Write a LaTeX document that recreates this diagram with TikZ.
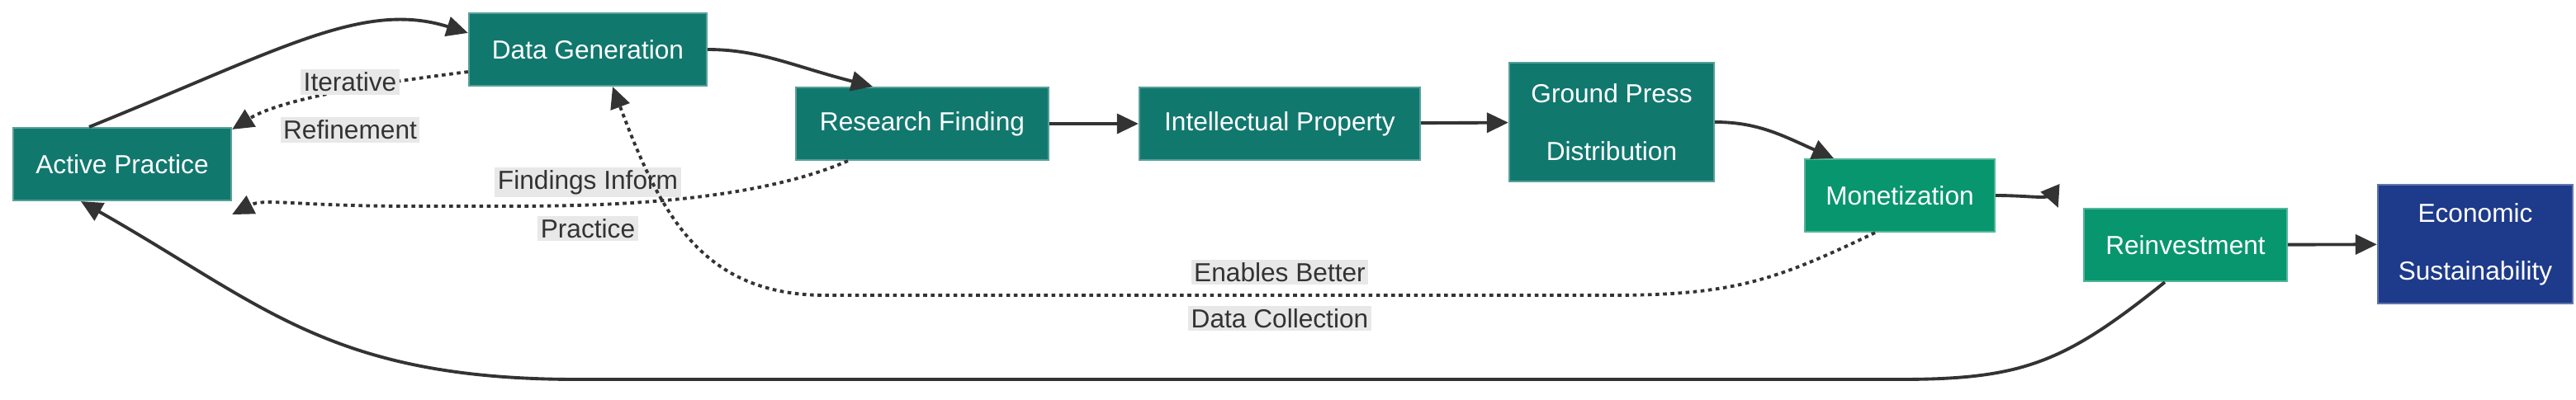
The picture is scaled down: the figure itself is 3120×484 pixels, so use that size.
\documentclass[tikz,border=0pt]{standalone}
\usepackage{fontspec}
\setmainfont{Liberation Sans}
\usetikzlibrary{arrows.meta, positioning, calc}
\definecolor{tealbox}{RGB}{17,120,110}
\definecolor{greenbox}{RGB}{8,150,110}
\definecolor{bluebox}{RGB}{30,58,138}
\definecolor{ink}{RGB}{51,51,51}
\begin{document}
\begin{tikzpicture}[
    x=0.01cm, y=-0.01cm,
    box/.style={rectangle, draw=#1!70!white, fill=#1, text=white, line width=0.6pt, minimum height=0.88cm, align=center, font=\fontsize{9}{20}\selectfont, inner sep=0pt},
    box/.default=tealbox,
    arrow/.style={-{Triangle[length=2.6mm, width=2.4mm]}, line width=1.1pt, draw=ink},
    dotted arrow/.style={arrow, dash pattern=on 1.3pt off 1.3pt},
    lbl/.style={fill=black!9, text=ink, font=\fontsize{9}{11}\selectfont, inner sep=1pt},
]
\useasboundingbox (0,0) rectangle (3120,484);

% Nodes
\node[box, minimum width=2.64cm] (practice) at (148,199) {Active Practice};
\node[box, minimum width=2.88cm] (datagen) at (712,60) {Data Generation};
\node[box, minimum width=3.06cm] (finding) at (1117,150) {Research Finding};
\node[box, minimum width=3.40cm] (ip) at (1550,150) {Intellectual Property};
\node[box, minimum width=2.48cm, minimum height=1.44cm] (press) at (1952,148) {Ground Press\\Distribution};
\node[box=greenbox, minimum width=2.30cm] (money) at (2301,237) {Monetization};
\node[box=greenbox, minimum width=2.46cm] (reinvest) at (2647,297) {Reinvestment};
\node[box=bluebox, minimum width=2.36cm, minimum height=1.44cm] (econ) at (2998,296) {Economic\\Sustainability};

% Main flow
\draw[arrow] ([xshift=-0.4cm]practice.north) .. controls (340,60) and (440,0) .. ([yshift=-0.25cm]datagen.north west);
\draw[arrow] (datagen.east) .. controls (920,60) and (960,80) .. ([xshift=-0.6cm]finding.north);
\draw[arrow] (finding) -- (ip);
\draw[arrow] (ip) -- (press);
\draw[arrow] ([yshift=0cm]press.east) .. controls (2130,148) and (2160,165) .. ([xshift=-0.8cm]money.north);
\draw[arrow] (money.east) .. controls (2470,237) and (2490,245) .. ([xshift=-0.3cm]reinvest.north west);
\draw[arrow] (reinvest) -- (econ);

% Feedback loops
\draw[dotted arrow] ([yshift=0.18cm]datagen.south west) .. controls (460,100) and (340,120) .. ([yshift=-0.03cm]practice.north east);
\path ($(datagen.south west)!0.5!(practice.north east)$) ++(0,-30) node[lbl] {Iterative}
      ++(0,58) node[lbl] {Refinement};
\draw[dotted arrow] ([xshift=-0.9cm]finding.south) .. controls (900,250) and (700,250) .. (600,250)
      -- (500,250) .. controls (360,250) and (320,240) .. ([yshift=-0.16cm]practice.south east);
\node[lbl] at (712,221) {Findings Inform};
\node[lbl] at (712,277) {Practice};
\draw[dotted arrow] ([xshift=-0.3cm]money.south) .. controls (2150,340) and (2100,358) .. (1950,358)
      -- (1000,358) .. controls (850,358) and (800,260) .. ([xshift=0.3cm]datagen.south);
\node[lbl] at (1550,330) {Enables Better};
\node[lbl] at (1550,386) {Data Collection};
\draw[arrow] ([xshift=-0.25cm]reinvest.south) .. controls (2500,440) and (2450,460) .. (2300,460)
      -- (700,460) .. controls (400,460) and (320,370) .. ([xshift=-0.5cm]practice.south);
\end{tikzpicture}
\end{document}
